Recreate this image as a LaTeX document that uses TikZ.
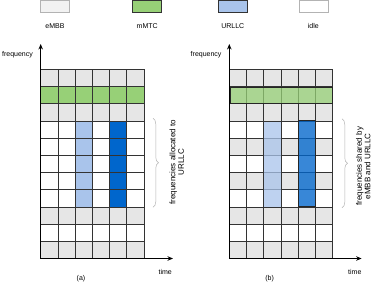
\documentclass[tikz,border=0pt]{standalone}
\usepackage{fontspec}
\setmainfont{Liberation Sans}
\usetikzlibrary{arrows.meta,decorations.pathreplacing}
\definecolor{embb}{HTML}{E6E6E6}
\definecolor{embbleg}{HTML}{F2F2F2}
\definecolor{mmtc}{HTML}{97D077}
\definecolor{urllc}{HTML}{A9C4EB}
\definecolor{urllcdark}{HTML}{0066CC}
\definecolor{gridcol}{HTML}{333333}
\definecolor{legline}{HTML}{B3B3B3}
\newcommand{\cs}{17.2}
\begin{document}
\begin{tikzpicture}[x=1pt,y=-1pt,
    lbl/.style={font=\fontsize{7}{8}\selectfont, inner sep=0pt},
    legbox/.style={line width=0.6pt, minimum width=29pt, minimum height=11.8pt, inner sep=0pt},
    axis/.style={line width=0.9pt, -{Stealth[length=5.5pt,width=4.5pt]}},
    gridline/.style={draw=gridcol, line width=0.7pt},
    band/.style={decorate, decoration={brace, amplitude=5.5pt}, draw=gray!60, line width=0.5pt},
    bandtext/.style={font=\fontsize{8}{8.6}\selectfont, rotate=90, align=center, inner sep=0pt}]
    \useasboundingbox (0,0) rectangle (375,289);
    % legend
    \node[legbox, draw=legline, fill=embbleg] (legembb) at (55,6.4) {};
    \node[legbox, draw=gridcol, fill=mmtc] (legmmtc) at (147.2,6.4) {};
    \node[legbox, draw=gridcol, fill=urllc] (legurllc) at (232.8,6.4) {};
    \node[legbox, draw=legline, fill=white] (legidle) at (313.3,6.4) {};
    \node[lbl] at (55,25.7) {eMBB};
    \node[lbl] at (147.2,25.7) {mMTC};
    \node[lbl] at (232.8,25.7) {URLLC};
    \node[lbl] at (313.3,25.7) {idle};
    % (a) dedicated frequencies
    \begin{scope}[shift={(40.7,69.3)}]
        \foreach \r/\colr in {0/embb,1/mmtc,2/embb,3/white,4/white,5/white,6/white,7/white,8/embb,9/white,10/embb}
            \foreach \c in {0,...,5}
                \fill[\colr] (\c*\cs,\r*\cs) rectangle ++(\cs,\cs);
        \foreach \r in {3,...,7} {
            \fill[urllc] (2*\cs,\r*\cs) rectangle ++(\cs,\cs);
            \fill[urllcdark] (4*\cs,\r*\cs) rectangle ++(\cs,\cs);
        }
        \foreach \c in {0,...,6}
            \draw[gridline] (\c*\cs,0) -- (\c*\cs,11*\cs);
        \foreach \r in {0,...,11}
            \draw[gridline] (0,\r*\cs) -- (6*\cs,\r*\cs);
        \coordinate (oa) at (0,11*\cs);
        \coordinate (fa) at (0,-25.3);
        \coordinate (ta) at (132.3,11*\cs);
        \draw[axis] (oa) -- (fa);
        \draw[axis] (oa) -- (ta);
        \node[lbl] (freqa) at (-23.2,-14.3) {frequency};
        \node[lbl] (timea) at (124.5,203) {time};
        \node[lbl] (capa) at (40.3,209.7) {(a)};
        \coordinate (bta) at (112.3,49);
        \coordinate (bba) at (112.3,138);
        \draw[band] (bta) -- (bba);
        \node[bandtext] (banda) at (136,93) {frequencies allocated to\\URLLC};
    \end{scope}
    % (b) shared frequencies
    \begin{scope}[shift={(229.3,69.3)}]
        \foreach \r/\colr in {0/embb,1/embb,2/embb,3/white,4/embb,5/white,6/embb,7/white,8/embb,9/white,10/embb}
            \foreach \c in {0,...,5}
                \fill[\colr] (\c*\cs,\r*\cs) rectangle ++(\cs,\cs);
        \foreach \c in {0,...,6}
            \draw[gridline] (\c*\cs,0) -- (\c*\cs,11*\cs);
        \foreach \r in {0,...,11}
            \draw[gridline] (0,\r*\cs) -- (6*\cs,\r*\cs);
        \draw[line width=1.5pt, draw=black!85, fill=mmtc, fill opacity=0.75] (1,\cs+0.8) rectangle (6*\cs,2*\cs-0.4);
        \draw[gridline, fill=urllc, fill opacity=0.75] (2*\cs,3*\cs) rectangle (3*\cs,8*\cs);
        \draw[gridline, draw=black!85, line width=0.9pt, fill=urllcdark, fill opacity=0.78] (4*\cs,3*\cs) rectangle (5*\cs,8*\cs);
        \coordinate (ob) at (0,11*\cs);
        \coordinate (fb) at (0,-25.3);
        \coordinate (tb) at (132.3,11*\cs);
        \draw[axis] (ob) -- (fb);
        \draw[axis] (ob) -- (tb);
        \node[lbl] (freqb) at (-23.2,-14.3) {frequency};
        \node[lbl] (timeb) at (125.5,203) {time};
        \node[lbl] (capb) at (40.3,209.7) {(b)};
        \coordinate (btb) at (112.7,49.5);
        \coordinate (bbb) at (112.7,138.5);
        \draw[band] (btb) -- (bbb);
        \node[bandtext] (bandb) at (134,97) {frequencies shared by\\eMBB and URLLC};
    \end{scope}
\end{tikzpicture}
\end{document}
